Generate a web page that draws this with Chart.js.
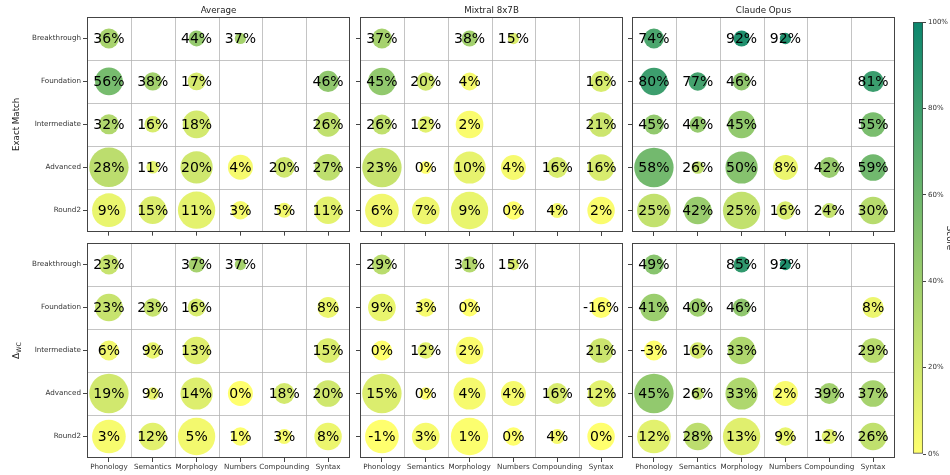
<!DOCTYPE html>
<html>
<head>
<meta charset="utf-8">
<script src="https://cdn.jsdelivr.net/npm/chart.js@4.4.1/dist/chart.umd.min.js"></script>
<style>
    html, body { margin: 0; padding: 0; background: #fff; }
    #wrap { position: relative; width: 950px; height: 475px; overflow: hidden; }
    .panel { position: absolute; }
</style>
</head>
<body>
<div id="wrap"></div>
<script>
// categories
const levels = ['Breakthrough', 'Foundation', 'Intermediate', 'Advanced', 'Round2'];
const skills = ['Phonology', 'Semantics', 'Morphology', 'Numbers', 'Compounding', 'Syntax'];
const panelTitles = ['Average', 'Mixtral 8x7B', 'Claude Opus'];
const colorbarTicks = [0, 20, 40, 60, 80, 100];

// number of items per cell (bubble area)
const itemCounts = [
    [25, null, 16, 8, null, null],
    [48, 21, 20, null, null, 28],
    [25, 17, 48, null, null, 38],
    [97, 10, 65, 39, 27, 44],
    [71, 48, 87, 21, 14, 47]
];

// Exact Match scores (%)
const avgEM = [
    [36, null, 44, 37, null, null],
    [56, 38, 17, null, null, 46],
    [32, 16, 18, null, null, 26],
    [28, 11, 20, 4, 20, 27],
    [9, 15, 11, 3, 5, 11]
];
const mixtralEM = [
    [37, null, 38, 15, null, null],
    [45, 20, 4, null, null, 16],
    [26, 12, 2, null, null, 21],
    [23, 0, 10, 4, 16, 16],
    [6, 7, 9, 0, 4, 2]
];
const claudeEM = [
    [74, null, 92, 92, null, null],
    [80, 77, 46, null, null, 81],
    [45, 44, 45, null, null, 55],
    [58, 26, 50, 8, 42, 59],
    [25, 42, 25, 16, 24, 30]
];

// Delta WC scores (%)
const avgWC = [
    [23, null, 37, 37, null, null],
    [23, 23, 16, null, null, 8],
    [6, 9, 13, null, null, 15],
    [19, 9, 14, 0, 18, 20],
    [3, 12, 5, 1, 3, 8]
];
const mixtralWC = [
    [29, null, 31, 15, null, null],
    [9, 3, 0, null, null, -16],
    [0, 12, 2, null, null, 21],
    [15, 0, 4, 4, 16, 12],
    [-1, 3, 1, 0, 4, 0]
];
const claudeWC = [
    [49, null, 85, 92, null, null],
    [41, 40, 46, null, null, 8],
    [-3, 16, 33, null, null, 29],
    [45, 26, 33, 2, 39, 37],
    [12, 28, 13, 9, 12, 26]
];

const grids = [[avgEM, mixtralEM, claudeEM], [avgWC, mixtralWC, claudeWC]];

// layout
const FONT = '"DejaVu Sans"';
const colLeft = [87, 360, 632];
const rowTop = [17, 243];
const panelW = 263;
const panelH = 215;

// summer_r colormap
function scoreColor(v, alpha) {
    const t = Math.max(0, Math.min(1, v / 100));
    const r = Math.round(255 * (1 - t));
    const g = Math.round(255 * (1 - t / 2));
    return `rgba(${r},${g},102,${alpha})`;
}

const panelDecor = {
    id: 'panelDecor',
    beforeDatasetsDraw(chart) {
        const { ctx, chartArea: a, scales: { x, y } } = chart;
        ctx.save();
        ctx.strokeStyle = 'rgba(176,176,176,0.75)';
        ctx.lineWidth = 1;
        ctx.beginPath();
        for (let i = 0; i < skills.length - 1; i++) {
            const px = Math.round(x.getPixelForValue(i + 0.5)) + 0.5;
            ctx.moveTo(px, a.top);
            ctx.lineTo(px, a.bottom);
        }
        for (let i = 0; i < levels.length - 1; i++) {
            const py = Math.round(y.getPixelForValue(i + 0.5)) + 0.5;
            ctx.moveTo(a.left, py);
            ctx.lineTo(a.right, py);
        }
        ctx.stroke();
        ctx.restore();
    },
    afterDatasetsDraw(chart, args, opts) {
        const { ctx, chartArea: a } = chart;
        const meta = chart.getDatasetMeta(0);
        const pts = chart.data.datasets[0].data;
        ctx.save();
        // value labels
        ctx.font = `14px ${FONT}`;
        ctx.fillStyle = '#000';
        ctx.textAlign = 'center';
        ctx.textBaseline = 'middle';
        meta.data.forEach((el, i) => {
            ctx.fillText(pts[i].v + '%', el.x, el.y + 1);
        });
        // frame
        ctx.strokeStyle = '#444';
        ctx.lineWidth = 1;
        ctx.strokeRect(Math.round(a.left) + 0.5, Math.round(a.top) + 0.5,
            Math.round(a.right - a.left) - 1, Math.round(a.bottom - a.top) - 1);
        // panel title
        ctx.fillStyle = '#222';
        if (opts.title) {
            ctx.font = `8.7px ${FONT}`;
            ctx.textBaseline = 'alphabetic';
            ctx.fillText(opts.title, (a.left + a.right) / 2, a.top - 4);
        }
        // row title
        if (opts.rowTitle) {
            const cy = (a.top + a.bottom) / 2;
            ctx.translate(19, cy);
            ctx.rotate(-Math.PI / 2);
            ctx.textBaseline = 'alphabetic';
            if (opts.rowTitle === 'delta') {
                ctx.font = `9px ${FONT}`;
                const w1 = ctx.measureText('Δ').width;
                ctx.font = `6.3px ${FONT}`;
                const w2 = ctx.measureText('WC').width;
                ctx.textAlign = 'left';
                ctx.font = `9px ${FONT}`;
                ctx.fillText('Δ', -(w1 + w2) / 2, 0);
                ctx.font = `6.3px ${FONT}`;
                ctx.fillText('WC', -(w1 + w2) / 2 + w1, 2);
            } else {
                ctx.font = `8.7px ${FONT}`;
                ctx.textAlign = 'center';
                ctx.fillText(opts.rowTitle, 0, 0);
            }
        }
        ctx.restore();
    }
};

const wrap = document.getElementById('wrap');

function makePanel(row, col) {
    const values = grids[row][col];
    const divLeft = col === 0 ? 0 : colLeft[col] - 10;
    const yAxisW = colLeft[col] - divLeft;
    const divTop = rowTop[row] - 17;
    const xAxisH = row === 1 ? 17 : 6;
    const div = document.createElement('div');
    div.className = 'panel';
    div.style.left = divLeft + 'px';
    div.style.top = divTop + 'px';
    div.style.width = (yAxisW + panelW + 2) + 'px';
    div.style.height = (17 + panelH + xAxisH) + 'px';
    const canvas = document.createElement('canvas');
    div.appendChild(canvas);
    wrap.appendChild(div);

    const points = [];
    const colors = [];
    levels.forEach((lv, i) => {
        skills.forEach((sk, j) => {
            const v = values[i][j];
            if (v === null) return;
            points.push({ x: j, y: i, r: 2 * Math.sqrt(itemCounts[i][j]), v: v });
            colors.push(scoreColor(v, 0.95));
        });
    });

    new Chart(canvas.getContext('2d'), {
        type: 'bubble',
        data: {
            datasets: [{
                data: points,
                backgroundColor: colors,
                borderWidth: 0,
                hoverBorderWidth: 0,
                hoverRadius: 0
            }]
        },
        options: {
            responsive: true,
            maintainAspectRatio: false,
            animation: false,
            events: [],
            layout: { autoPadding: false, padding: { top: 17, right: 2, left: 0, bottom: 0 } },
            scales: {
                x: {
                    type: 'linear',
                    min: -0.5,
                    max: 5.5,
                    afterBuildTicks: s => { s.ticks = skills.map((_, i) => ({ value: i })); },
                    afterFit: s => { s.height = xAxisH; },
                    ticks: {
                        display: row === 1,
                        autoSkip: false,
                        maxRotation: 0,
                        padding: 1,
                        color: '#333',
                        font: { family: FONT, size: 7.2 },
                        callback: v => skills[v]
                    },
                    grid: { drawOnChartArea: false, drawTicks: true, tickLength: 4, tickColor: '#444' },
                    border: { display: false }
                },
                y: {
                    type: 'linear',
                    min: -0.5,
                    max: 4.5,
                    reverse: true,
                    afterBuildTicks: s => { s.ticks = levels.map((_, i) => ({ value: i })); },
                    afterFit: s => { s.width = yAxisW; },
                    ticks: {
                        display: col === 0,
                        autoSkip: false,
                        padding: 2,
                        color: '#333',
                        font: { family: FONT, size: 7.2 },
                        callback: v => levels[v]
                    },
                    grid: { drawOnChartArea: false, drawTicks: true, tickLength: 4, tickColor: '#444' },
                    border: { display: false }
                }
            },
            plugins: {
                legend: { display: false },
                tooltip: { enabled: false },
                panelDecor: {
                    title: row === 0 ? panelTitles[col] : null,
                    rowTitle: col === 0 ? (row === 0 ? 'Exact Match' : 'delta') : null
                }
            }
        },
        plugins: [panelDecor]
    });
}

for (let r = 0; r < 2; r++) {
    for (let c = 0; c < 3; c++) makePanel(r, c);
}

// Colorbar
const cbDiv = document.createElement('div');
cbDiv.className = 'panel';
cbDiv.style.left = '880px';
cbDiv.style.top = '0px';
cbDiv.style.width = '70px';
cbDiv.style.height = '475px';
const cbCanvas = document.createElement('canvas');
cbDiv.appendChild(cbCanvas);
wrap.appendChild(cbDiv);

const cbLabel = {
    id: 'cbLabel',
    afterDraw(chart) {
        const { ctx, chartArea: a } = chart;
        ctx.save();
        ctx.translate(947 - 880, (a.top + a.bottom) / 2);
        ctx.rotate(Math.PI / 2);
        ctx.font = `8.7px ${FONT}`;
        ctx.fillStyle = '#222';
        ctx.textAlign = 'center';
        ctx.textBaseline = 'alphabetic';
        ctx.fillText('Score', 0, 0);
        ctx.restore();
    }
};

new Chart(cbCanvas.getContext('2d'), {
    type: 'bar',
    data: {
        labels: ['Score'],
        datasets: [{
            data: [[colorbarTicks[0], colorbarTicks[colorbarTicks.length - 1]]],
            backgroundColor: ctx => {
                const chart = ctx.chart;
                if (!chart.chartArea) return scoreColor(50, 1);
                const ys = chart.scales.y;
                const g = chart.ctx.createLinearGradient(0, ys.getPixelForValue(0), 0, ys.getPixelForValue(100));
                for (let k = 0; k <= 10; k++) g.addColorStop(k / 10, scoreColor(k * 10, 0.95));
                return g;
            },
            borderColor: '#444',
            borderWidth: 1,
            borderSkipped: false,
            barPercentage: 1,
            categoryPercentage: 1
        }]
    },
    options: {
        responsive: true,
        maintainAspectRatio: false,
        animation: false,
        events: [],
        layout: { autoPadding: false, padding: { top: 22, bottom: 21, left: 33, right: 0 } },
        scales: {
            x: { display: false },
            y: {
                position: 'right',
                min: 0,
                max: 100,
                afterBuildTicks: s => { s.ticks = colorbarTicks.map(v => ({ value: v })); },
                afterFit: s => { s.width = 27; },
                ticks: {
                    padding: 2,
                    color: '#333',
                    font: { family: FONT, size: 7 },
                    callback: v => v + '%'
                },
                grid: { drawOnChartArea: false, drawTicks: true, tickLength: 3, tickColor: '#444' },
                border: { display: false }
            }
        },
        plugins: {
            legend: { display: false },
            tooltip: { enabled: false }
        }
    },
    plugins: [cbLabel]
});
</script>
</body>
</html>
